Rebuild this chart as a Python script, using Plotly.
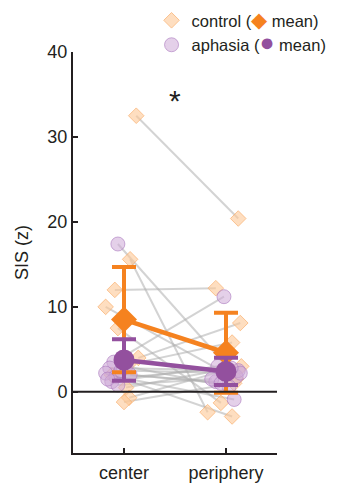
import plotly.graph_objects as go

# ---- data ----
conditions = ["center", "periphery"]
cond_pos = [0, 1]

ctrl_center = [32.5, 15.6, 12.0, 10.0, 7.5, 4.0, 3.2, 2.0, 0.5, -0.7, -1.2]
ctrl_periph = [20.4, -2.4, 12.2, 1.5, -1.3, 8.1, 5.8, -2.9, 3.0, 2.5, 1.0]
ctrl_jit_c = [0.12, 0.06, -0.09, -0.18, -0.06, 0.14, 0.04, -0.12, 0.02, 0.05, 0.0]
ctrl_jit_p = [0.12, -0.18, -0.1, 0.1, -0.05, 0.14, 0.06, 0.06, 0.15, -0.02, 0.08]

aph_center = [17.4, 3.5, 2.8, 2.2, 1.8, 1.2, 3.0, 2.5, 0.8, 1.5, 2.0]
aph_periph = [1.8, 11.2, 2.5, 1.2, -0.9, 3.0, 0.6, 2.2, 1.5, 2.8, 1.0]
aph_jit_c = [-0.06, -0.1, -0.14, -0.18, -0.08, -0.12, 0.02, -0.03, -0.06, -0.16, 0.06]
aph_jit_p = [0.1, -0.02, 0.12, -0.1, 0.08, -0.08, 0.03, 0.14, -0.14, 0.05, -0.05]

ctrl_mean = [8.5, 4.6]
ctrl_err = [6.2, 4.7]
aph_mean = [3.75, 2.4]
aph_err = [2.45, 1.6]

y_ticks = [0, 10, 20, 30, 40]

# ---- styles ----
ORANGE = "#F5821F"
PURPLE = "#93509E"
DARK = "#231F20"
FONT = "Liberation Sans, Arial, sans-serif"

fig = go.Figure()

# subject lines
def pair_lines(c, p, jc, jp):
    xs, ys = [], []
    for a, b, ja, jb in zip(c, p, jc, jp):
        xs += [cond_pos[0] + ja, cond_pos[1] + jb, None]
        ys += [a, b, None]
    return xs, ys

for c, p, jc, jp in [(ctrl_center, ctrl_periph, ctrl_jit_c, ctrl_jit_p),
                     (aph_center, aph_periph, aph_jit_c, aph_jit_p)]:
    xs, ys = pair_lines(c, p, jc, jp)
    fig.add_trace(go.Scatter(x=xs, y=ys, mode="lines",
                             line=dict(color="rgba(175,175,175,0.55)", width=2),
                             showlegend=False, hoverinfo="skip"))

# individual points
fig.add_trace(go.Scatter(
    x=[cond_pos[0] + j for j in ctrl_jit_c] + [cond_pos[1] + j for j in ctrl_jit_p],
    y=ctrl_center + ctrl_periph, mode="markers",
    marker=dict(symbol="diamond", size=12, color="rgba(253,200,150,0.6)",
                line=dict(color="rgba(250,175,110,0.7)", width=1)),
    name="control (<span style='color:%s;font-size:21px'>◆</span> mean)" % ORANGE,
    showlegend=True))
fig.add_trace(go.Scatter(
    x=[cond_pos[0] + j for j in aph_jit_c] + [cond_pos[1] + j for j in aph_jit_p],
    y=aph_center + aph_periph, mode="markers",
    marker=dict(symbol="circle", size=14, color="rgba(205,170,215,0.55)",
                line=dict(color="rgba(170,120,190,0.6)", width=1)),
    name="aphasia (<span style='color:%s;font-size:25px'>●</span> mean)" % PURPLE,
    showlegend=True))

# means
fig.add_trace(go.Scatter(
    x=cond_pos, y=ctrl_mean, mode="lines+markers",
    line=dict(color=ORANGE, width=4.5),
    marker=dict(symbol="diamond", size=20, color=ORANGE),
    error_y=dict(type="data", array=ctrl_err, color=ORANGE, thickness=4, width=12),
    showlegend=False))
fig.add_trace(go.Scatter(
    x=cond_pos, y=aph_mean, mode="lines+markers",
    line=dict(color=PURPLE, width=4.5),
    marker=dict(symbol="circle", size=21, color=PURPLE),
    error_y=dict(type="data", array=aph_err, color=PURPLE, thickness=4, width=12),
    showlegend=False))

# zero line
fig.add_shape(type="line", xref="paper", x0=0, x1=1, yref="y", y0=0, y1=0,
              line=dict(color=DARK, width=2), layer="above")

# significance star
fig.add_annotation(x=0.5, y=34.3, text="*", showarrow=False,
                   font=dict(size=30, color=DARK, family=FONT))

fig.update_layout(
    width=329, height=475,
    margin=dict(l=65, r=60, t=44, b=30, autoexpand=False),
    plot_bgcolor="white", paper_bgcolor="white",
    font=dict(family=FONT, size=18, color=DARK),
    legend=dict(x=0.385, y=1.122, xanchor="left", yanchor="top",
                font=dict(size=16.5, color=DARK), bgcolor="rgba(0,0,0,0)",
                itemwidth=30, tracegroupgap=0),
    xaxis=dict(range=[-0.5, 1.5], tickvals=cond_pos, ticktext=conditions,
               showline=True, linecolor=DARK, linewidth=2, mirror=False,
               ticks="inside", ticklen=5, tickwidth=1.5, tickcolor=DARK,
               showgrid=False, zeroline=False, ticklabelstandoff=2,
               tickfont=dict(size=18)),
    yaxis=dict(range=[-7.2, 40], tickvals=y_ticks,
               showline=True, linecolor=DARK, linewidth=2,
               ticks="inside", ticklen=5, tickwidth=2, tickcolor=DARK,
               showgrid=False, zeroline=False,
               title=dict(text="SIS (z)", font=dict(size=18), standoff=14),
               tickfont=dict(size=18)),
)

fig.write_html("out.html")
